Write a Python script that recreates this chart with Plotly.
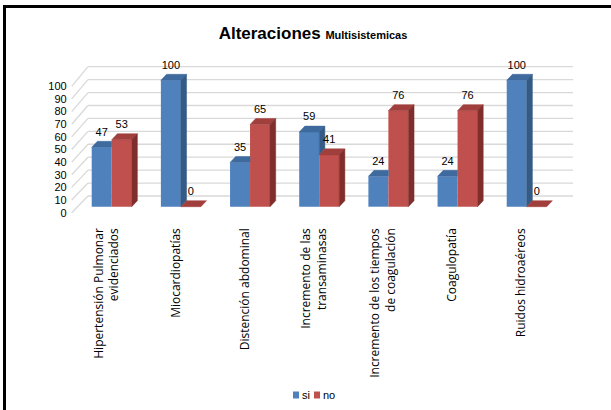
import plotly.graph_objects as go

# ---- data -------------------------------------------------------------
categorias = [
    "Hipertensión Pulmonar<br>evidenciados",
    "Miocardiopatías",
    "Distención abdominal",
    "Incremento de las<br>transaminasas",
    "Incremento de los tiempos<br>de coagulación",
    "Coagulopatía",
    "Ruidos hidroaéreos",
]
si = [47, 100, 35, 59, 24, 24, 100]
no = [53, 0, 65, 41, 76, 76, 0]
ticks_y = [0, 10, 20, 30, 40, 50, 60, 70, 80, 90, 100]
series_names = ["si", "no"]

# ---- styling / pseudo-3D geometry (in axis units) ---------------------
NARROW = "Liberation Sans Narrow, Arial Narrow, Liberation Sans, sans-serif"
WIDE = "Open Sans, DejaVu Sans, sans-serif"
BLUE, BLUE_TOP, BLUE_SIDE = "#4F81BD", "#3E6A9E", "#345A86"
RED, RED_TOP, RED_SIDE = "#C0504D", "#A13F3C", "#7F2E2C"
GRID = "#D9D9D9"

BAR_W = 0.289          # width of one bar face
DX, DY = 0.082, 4.75   # depth offset of the bars
WALL_X0, WALL_X1, WALL_X2 = -0.578, -0.343, 6.67   # left wall front / back, right end
WALL_OFF, WALL_SCALE, LABEL_OFF = 8.47, 1.023, -4.75

W, H = 611, 410
# the plotting area fills the frame; its top and left axis lines are the frame
M = dict(l=6, r=0, t=8, b=0)
PX_PER_X, X0_PX = 69.17, 111.7     # pixels per category, pixel of category 0
PX_PER_Y, Y0_PX = 1.264, 206.7     # pixels per unit, pixel of value 0
X_RANGE = [(M["l"] - X0_PX) / PX_PER_X, (W - M["r"] - X0_PX) / PX_PER_X]
Y_RANGE = [(Y0_PX - (H - M["b"])) / PX_PER_Y, (Y0_PX - M["t"]) / PX_PER_Y]
AXIS_LEFT_PX, AXIS_BOTTOM_PX = 66.7, 216.8   # where the tick labels hang

pw, ph = W - M["l"] - M["r"], H - M["t"] - M["b"]
def px(x): return (x - M["l"]) / pw
def py(y): return (H - M["b"] - y) / ph

n = len(categorias)
x_si = [i - BAR_W / 2 for i in range(n)]
x_no = [i + BAR_W / 2 for i in range(n)]


def top_face(xc, v, clip_right):
    x0, x1 = xc - BAR_W / 2, xc + BAR_W / 2
    if clip_right:
        return [x0, x1, x1, x0 + DX, x0, None], [v, v, v + DY, v + DY, v, None]
    return [x0, x1, x1 + DX, x0 + DX, x0, None], [v, v, v + DY, v + DY, v, None]


def side_face(xc, v, base):
    x1 = xc + BAR_W / 2
    return [x1, x1, x1 + DX, x1 + DX, x1, None], [base, v, v + DY, base + DY, base, None]


fig = go.Figure()

# front faces
fig.add_trace(go.Bar(x=x_si, y=si, width=BAR_W, name=series_names[0], marker_color=BLUE,
                     marker_line_width=0, hoverinfo="y"))
fig.add_trace(go.Bar(x=x_no, y=no, width=BAR_W, name=series_names[1], marker_color=RED,
                     marker_line_width=0, hoverinfo="y"))

# top and side faces
faces = {"si_top": ([], []), "si_side": ([], []), "no_top": ([], []), "no_side": ([], [])}
for i in range(n):
    a, b = si[i], no[i]
    hidden = b >= a + DY
    tx, ty = top_face(x_si[i], a, hidden)
    faces["si_top"][0].extend(tx); faces["si_top"][1].extend(ty)
    if a > b:
        sx, sy = side_face(x_si[i], a, b)
        faces["si_side"][0].extend(sx); faces["si_side"][1].extend(sy)
    tx, ty = top_face(x_no[i], b, False)
    faces["no_top"][0].extend(tx); faces["no_top"][1].extend(ty)
    if b > 0:
        sx, sy = side_face(x_no[i], b, 0)
        faces["no_side"][0].extend(sx); faces["no_side"][1].extend(sy)

for key, col in [("si_top", BLUE_TOP), ("si_side", BLUE_SIDE),
                 ("no_top", RED_TOP), ("no_side", RED_SIDE)]:
    fx, fy = faces[key]
    fig.add_trace(go.Scatter(x=fx, y=fy, mode="lines", fill="toself", fillcolor=col,
                             line=dict(width=0.5, color=col), showlegend=False,
                             hoverinfo="skip"))

# value labels
fig.add_trace(go.Scatter(x=x_si + x_no, y=[v + 11.5 for v in si + no],
                         text=[str(v) for v in si + no], mode="text",
                         textfont=dict(family=NARROW, size=11, color="#000"),
                         showlegend=False, hoverinfo="skip", cliponaxis=False))

# anchor trace so the label axes are drawn
fig.add_trace(go.Scatter(x=[0], y=[0], xaxis="x2", yaxis="y2", mode="markers",
                         marker=dict(opacity=0), showlegend=False, hoverinfo="skip"))

# walls: gridlines on the back wall and the left wall
shapes = []
for v in ticks_y:
    yb = WALL_OFF + WALL_SCALE * v
    shapes.append(dict(type="line", xref="x", yref="y", x0=WALL_X0, y0=v + LABEL_OFF,
                       x1=WALL_X1, y1=yb, line=dict(color=GRID, width=1.3), layer="below"))
    shapes.append(dict(type="line", xref="x", yref="y", x0=WALL_X1, y0=yb,
                       x1=WALL_X2, y1=yb, line=dict(color=GRID, width=1.3), layer="below"))

# legend
annotations = []
for name, col, x_sq in [(series_names[0], BLUE, 293), (series_names[1], RED, 314)]:
    shapes.append(dict(type="rect", xref="paper", yref="paper", x0=px(x_sq), x1=px(x_sq + 6),
                       y0=py(398.5), y1=py(391.5), fillcolor=col, line=dict(width=0)))
    annotations.append(dict(text=name, xref="paper", yref="paper", x=px(x_sq + 7),
                            y=py(395), xanchor="left", yanchor="middle", showarrow=False,
                            font=dict(family=NARROW, size=11, color="#000")))

fig.update_layout(
    width=W, height=H, margin=M,
    paper_bgcolor="white", plot_bgcolor="white",
    barmode="overlay",
    shapes=shapes,
    annotations=annotations,
    showlegend=False,
    title=dict(text="<b>Alteraciones</b> <b><span style='font-size:11px'>Multisistemicas</span></b>",
               font=dict(family=NARROW, size=17, color="#000"),
               xref="container", yref="container", x=313 / W, y=1 - 33 / H,
               xanchor="center", yanchor="middle"),
    # data axes: their lines form the top and left edges of the frame
    xaxis=dict(range=X_RANGE, side="top", showline=True, linecolor="#000", linewidth=2.5,
               showgrid=False, zeroline=False, showticklabels=False, ticks="",
               automargin=False),
    yaxis=dict(range=Y_RANGE, showline=True, linecolor="#000", linewidth=2.5,
               showgrid=False, zeroline=False, showticklabels=False, ticks="",
               automargin=False),
    # label axes
    xaxis2=dict(range=X_RANGE, overlaying="x", anchor="free", position=py(AXIS_BOTTOM_PX),
                side="bottom", tickvals=[i - 0.075 for i in range(n)], ticktext=categorias,
                tickangle=-90, showgrid=False, zeroline=False, showline=False, ticks="",
                tickfont=dict(family=WIDE, size=12, color="#000"), automargin=False,
                ticklabelstandoff=8),
    yaxis2=dict(range=Y_RANGE, overlaying="y", anchor="free", position=px(AXIS_LEFT_PX),
                side="left", tickvals=[v + LABEL_OFF for v in ticks_y],
                ticktext=[str(v) for v in ticks_y], showgrid=False, zeroline=False,
                showline=False, ticks="",
                tickfont=dict(family=NARROW, size=11, color="#000"), automargin=False),
)

fig.write_html("out.html")
